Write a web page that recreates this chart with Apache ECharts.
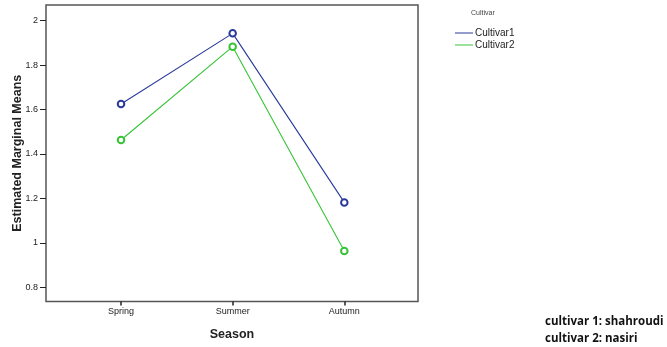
<!DOCTYPE html>
<html>
<head>
<meta charset="utf-8">
<script src="https://cdn.jsdelivr.net/npm/echarts@6/dist/echarts.min.js"></script>
<style>
html,body{margin:0;padding:0;background:#fff;}
#chart{width:667px;height:347px;}
</style>
</head>
<body>
<div id="chart"></div>
<script>
// Seasons on the x axis and the estimated marginal means per cultivar
const seasons = ['Spring', 'Summer', 'Autumn'];
const cultivar1 = [1.625, 1.943, 1.182];
const cultivar2 = [1.463, 1.883, 0.963];
const yTicks = [0.8, 1, 1.2, 1.4, 1.6, 1.8, 2];
const seriesNames = ['Cultivar1', 'Cultivar2'];
const notes = ['cultivar 1: shahroudi', 'cultivar 2: nasiri'];

const toPoints = vals => vals.map((v, i) => [i, v]);

const chart = echarts.init(document.getElementById('chart'), null, {renderer: 'canvas'});
chart.setOption({
  animation: false,
  backgroundColor: '#fff',
  grid: {left: 46, top: 5, right: 249, bottom: 45.5, outerBoundsMode: 'none', containLabel: false,
         show: true, borderColor: '#555', borderWidth: 1.5, backgroundColor: 'transparent'},
  legend: {
    data: seriesNames,
    orient: 'vertical',
    left: 450, top: 23,
    itemWidth: 18, itemHeight: 6, itemGap: 2,
    icon: 'path://M0,2.5 L18,2.5 L18,3.5 L0,3.5 Z',
    textStyle: {fontFamily: 'Liberation Sans, Arial', fontSize: 10, color: '#222', padding: [0, 0, 0, -3]}
  },
  xAxis: {
    type: 'value',
    min: -0.672, max: 2.66,
    splitLine: {show: false},
    axisLine: {show: false, onZero: false},
    axisTick: {show: true, length: 4, lineStyle: {color: '#222', width: 1.5}, customValues: [0, 1, 2]},
    axisLabel: {customValues: [0, 1, 2], formatter: v => seasons[Math.round(v)] || '', fontFamily: 'Liberation Sans, Arial', fontSize: 9, color: '#222', margin: 6},
    name: 'Season', nameLocation: 'middle', nameGap: 27, nameMoveOverlap: false,
    nameTextStyle: {fontFamily: 'Liberation Sans, Arial', fontSize: 12.5, fontWeight: 'bold', color: '#222'}
  },
  yAxis: {
    type: 'value',
    min: 0.736, max: 2.0707,
    splitLine: {show: false},
    axisLine: {show: false, onZero: false},
    axisTick: {show: true, length: 6, lineStyle: {color: '#222', width: 1}, customValues: yTicks},
    axisLabel: {customValues: yTicks, formatter: v => String(+v.toFixed(1)), fontFamily: 'Liberation Sans, Arial', fontSize: 9, color: '#222', margin: 8},
    name: 'Estimated Marginal Means', nameLocation: 'middle', nameGap: 22, nameMoveOverlap: false,
    nameTextStyle: {fontFamily: 'Liberation Sans, Arial', fontSize: 12.5, fontWeight: 'bold', color: '#222'}
  },
  series: [
    {name: seriesNames[0], type: 'line', data: toPoints(cultivar1), symbol: 'emptyCircle', symbolSize: 6.5,
     itemStyle: {color: '#2a3a9a', borderWidth: 0.8}, lineStyle: {color: '#2a3a9a', width: 1.1}},
    {name: seriesNames[1], type: 'line', data: toPoints(cultivar2), symbol: 'emptyCircle', symbolSize: 6.5,
     itemStyle: {color: '#36c436', borderWidth: 0.8}, lineStyle: {color: '#36c436', width: 1.1}}
  ],
  graphic: [
    {type: 'text', left: 471, top: 10, style: {text: 'Cultivar', fontFamily: 'Liberation Sans, Arial', fontSize: 7, fill: '#444'}},
    {type: 'text', left: 545, top: 316, style: {text: notes[0], fontFamily: 'Open Sans, Liberation Sans', fontSize: 11.5, fontWeight: 'bold', fill: '#111'}},
    {type: 'text', left: 545, top: 333, style: {text: notes[1], fontFamily: 'Open Sans, Liberation Sans', fontSize: 11.5, fontWeight: 'bold', fill: '#111'}}
  ]
});
</script>
</body>
</html>
